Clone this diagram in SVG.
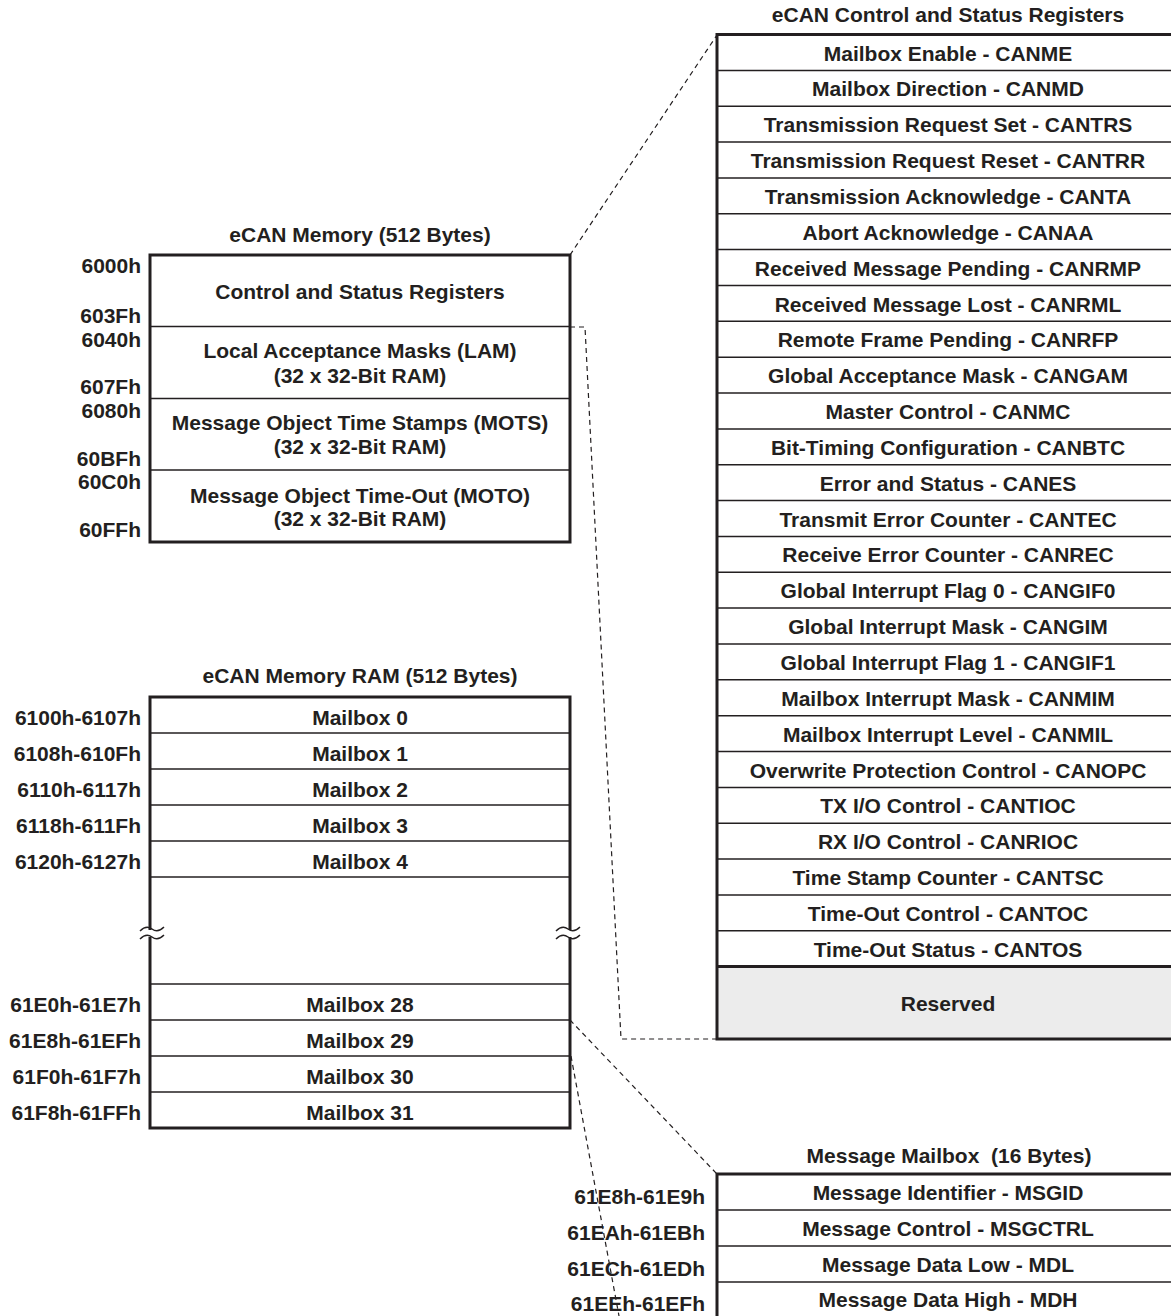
<svg xmlns="http://www.w3.org/2000/svg" width="1171" height="1316" viewBox="0 0 1171 1316">
<style>
.t{font-family:"Liberation Sans",Arial,sans-serif;font-weight:bold;font-size:21px;fill:#231f20}
.c{text-anchor:middle}
.e{text-anchor:end}
.box{fill:none;stroke:#231f20;stroke-width:3}
.dv{stroke:#231f20;stroke-width:1.5}
.dash{fill:none;stroke:#231f20;stroke-width:1.2;stroke-dasharray:5 4}
.wave{fill:none;stroke:#231f20;stroke-width:1.5}
</style>
<rect width="1171" height="1316" fill="#fff"/>
<g id="connectors">
<path class="dash" d="M570,255 L717,35"/>
<path class="dash" d="M570,327 L585,327 L621,1039 L717,1039"/>
<path class="dash" d="M570,1020 L717,1174"/>
<path class="dash" d="M571,1056 L619,1316"/>
</g>
<g id="ecan-memory">
<text class="t c" x="360" y="242">eCAN Memory (512 Bytes)</text>
<rect class="box" x="150" y="255" width="420" height="287" fill="#fff"/>
<line class="dv" x1="150" y1="326.5" x2="570" y2="326.5"/>
<line class="dv" x1="150" y1="398.5" x2="570" y2="398.5"/>
<line class="dv" x1="150" y1="470" x2="570" y2="470"/>
<text class="t c" x="360" y="299">Control and Status Registers</text>
<text class="t c" x="360" y="358">Local Acceptance Masks (LAM)</text>
<text class="t c" x="360" y="383">(32 x 32-Bit RAM)</text>
<text class="t c" x="360" y="430">Message Object Time Stamps (MOTS)</text>
<text class="t c" x="360" y="454">(32 x 32-Bit RAM)</text>
<text class="t c" x="360" y="503">Message Object Time-Out (MOTO)</text>
<text class="t c" x="360" y="526">(32 x 32-Bit RAM)</text>
<text class="t e" x="141" y="273">6000h</text>
<text class="t e" x="141" y="323">603Fh</text>
<text class="t e" x="141" y="347">6040h</text>
<text class="t e" x="141" y="394">607Fh</text>
<text class="t e" x="141" y="418">6080h</text>
<text class="t e" x="141" y="466">60BFh</text>
<text class="t e" x="141" y="489">60C0h</text>
<text class="t e" x="141" y="537">60FFh</text>
</g>
<g id="ecan-ram">
<text class="t c" x="360" y="683">eCAN Memory RAM (512 Bytes)</text>
<rect class="box" x="150" y="697" width="420" height="431"/>
<line class="dv" x1="150" y1="733" x2="570" y2="733"/>
<line class="dv" x1="150" y1="769" x2="570" y2="769"/>
<line class="dv" x1="150" y1="805" x2="570" y2="805"/>
<line class="dv" x1="150" y1="841" x2="570" y2="841"/>
<line class="dv" x1="150" y1="877" x2="570" y2="877"/>
<line class="dv" x1="150" y1="984" x2="570" y2="984"/>
<line class="dv" x1="150" y1="1020" x2="570" y2="1020"/>
<line class="dv" x1="150" y1="1056" x2="570" y2="1056"/>
<line class="dv" x1="150" y1="1092" x2="570" y2="1092"/>
<rect x="140" y="930" width="25" height="7" fill="#fff"/>
<rect x="556" y="930" width="25" height="7" fill="#fff"/>
<path class="wave" d="M140,931 C144,927 148,926 152,929 C156,932 160,931 164,927"/>
<path class="wave" d="M140,939 C144,935 148,934 152,937 C156,940 160,939 164,935"/>
<path class="wave" d="M556,931 C560,927 564,926 568,929 C572,932 576,931 580,927"/>
<path class="wave" d="M556,939 C560,935 564,934 568,937 C572,940 576,939 580,935"/>
<text class="t c" x="360" y="725">Mailbox 0</text>
<text class="t c" x="360" y="761">Mailbox 1</text>
<text class="t c" x="360" y="797">Mailbox 2</text>
<text class="t c" x="360" y="833">Mailbox 3</text>
<text class="t c" x="360" y="869">Mailbox 4</text>
<text class="t c" x="360" y="1012">Mailbox 28</text>
<text class="t c" x="360" y="1048">Mailbox 29</text>
<text class="t c" x="360" y="1084">Mailbox 30</text>
<text class="t c" x="360" y="1120">Mailbox 31</text>
<text class="t e" x="141" y="725">6100h-6107h</text>
<text class="t e" x="141" y="761">6108h-610Fh</text>
<text class="t e" x="141" y="797">6110h-6117h</text>
<text class="t e" x="141" y="833">6118h-611Fh</text>
<text class="t e" x="141" y="869">6120h-6127h</text>
<text class="t e" x="141" y="1012">61E0h-61E7h</text>
<text class="t e" x="141" y="1048">61E8h-61EFh</text>
<text class="t e" x="141" y="1084">61F0h-61F7h</text>
<text class="t e" x="141" y="1120">61F8h-61FFh</text>
</g>
<g id="control-status-registers">
<text class="t c" x="948" y="22">eCAN Control and Status Registers</text>
<rect x="717" y="966.6" width="470" height="72.4" fill="#ececec"/>
<rect class="box" x="717" y="34.5" width="470" height="1004.5"/>
<line class="dv" x1="717" y1="70.4" x2="1171" y2="70.4"/>
<line class="dv" x1="717" y1="106.2" x2="1171" y2="106.2"/>
<line class="dv" x1="717" y1="142.1" x2="1171" y2="142.1"/>
<line class="dv" x1="717" y1="177.9" x2="1171" y2="177.9"/>
<line class="dv" x1="717" y1="213.8" x2="1171" y2="213.8"/>
<line class="dv" x1="717" y1="249.6" x2="1171" y2="249.6"/>
<line class="dv" x1="717" y1="285.5" x2="1171" y2="285.5"/>
<line class="dv" x1="717" y1="321.3" x2="1171" y2="321.3"/>
<line class="dv" x1="717" y1="357.2" x2="1171" y2="357.2"/>
<line class="dv" x1="717" y1="393" x2="1171" y2="393"/>
<line class="dv" x1="717" y1="428.9" x2="1171" y2="428.9"/>
<line class="dv" x1="717" y1="464.7" x2="1171" y2="464.7"/>
<line class="dv" x1="717" y1="500.6" x2="1171" y2="500.6"/>
<line class="dv" x1="717" y1="536.4" x2="1171" y2="536.4"/>
<line class="dv" x1="717" y1="572.3" x2="1171" y2="572.3"/>
<line class="dv" x1="717" y1="608.1" x2="1171" y2="608.1"/>
<line class="dv" x1="717" y1="644" x2="1171" y2="644"/>
<line class="dv" x1="717" y1="679.8" x2="1171" y2="679.8"/>
<line class="dv" x1="717" y1="715.7" x2="1171" y2="715.7"/>
<line class="dv" x1="717" y1="751.5" x2="1171" y2="751.5"/>
<line class="dv" x1="717" y1="787.4" x2="1171" y2="787.4"/>
<line class="dv" x1="717" y1="823.2" x2="1171" y2="823.2"/>
<line class="dv" x1="717" y1="859.1" x2="1171" y2="859.1"/>
<line class="dv" x1="717" y1="894.9" x2="1171" y2="894.9"/>
<line class="dv" x1="717" y1="930.8" x2="1171" y2="930.8"/>
<line class="box" x1="717" y1="966.6" x2="1171" y2="966.6"/>
<text class="t c" x="948" y="60.5">Mailbox Enable - CANME</text>
<text class="t c" x="948" y="96.4">Mailbox Direction - CANMD</text>
<text class="t c" x="948" y="132.2">Transmission Request Set - CANTRS</text>
<text class="t c" x="948" y="168.1">Transmission Request Reset - CANTRR</text>
<text class="t c" x="948" y="203.9">Transmission Acknowledge - CANTA</text>
<text class="t c" x="948" y="239.8">Abort Acknowledge - CANAA</text>
<text class="t c" x="948" y="275.6">Received Message Pending - CANRMP</text>
<text class="t c" x="948" y="311.5">Received Message Lost - CANRML</text>
<text class="t c" x="948" y="347.3">Remote Frame Pending - CANRFP</text>
<text class="t c" x="948" y="383.2">Global Acceptance Mask - CANGAM</text>
<text class="t c" x="948" y="419">Master Control - CANMC</text>
<text class="t c" x="948" y="454.9">Bit-Timing Configuration - CANBTC</text>
<text class="t c" x="948" y="490.7">Error and Status - CANES</text>
<text class="t c" x="948" y="526.6">Transmit Error Counter - CANTEC</text>
<text class="t c" x="948" y="562.4">Receive Error Counter - CANREC</text>
<text class="t c" x="948" y="598.3">Global Interrupt Flag 0 - CANGIF0</text>
<text class="t c" x="948" y="634.1">Global Interrupt Mask - CANGIM</text>
<text class="t c" x="948" y="670">Global Interrupt Flag 1 - CANGIF1</text>
<text class="t c" x="948" y="705.8">Mailbox Interrupt Mask - CANMIM</text>
<text class="t c" x="948" y="741.7">Mailbox Interrupt Level - CANMIL</text>
<text class="t c" x="948" y="777.5">Overwrite Protection Control - CANOPC</text>
<text class="t c" x="948" y="813.4">TX I/O Control - CANTIOC</text>
<text class="t c" x="948" y="849.2">RX I/O Control - CANRIOC</text>
<text class="t c" x="948" y="885.1">Time Stamp Counter - CANTSC</text>
<text class="t c" x="948" y="920.9">Time-Out Control - CANTOC</text>
<text class="t c" x="948" y="956.8">Time-Out Status - CANTOS</text>
<text class="t c" x="948" y="1011">Reserved</text>
</g>
<g id="message-mailbox">
<text class="t c" x="949" y="1163" style="white-space:pre">Message Mailbox  (16 Bytes)</text>
<rect class="box" x="717" y="1174" width="470" height="160"/>
<line class="dv" x1="717" y1="1210" x2="1171" y2="1210"/>
<line class="dv" x1="717" y1="1246" x2="1171" y2="1246"/>
<line class="dv" x1="717" y1="1282" x2="1171" y2="1282"/>
<text class="t c" x="948" y="1200">Message Identifier - MSGID</text>
<text class="t c" x="948" y="1236">Message Control - MSGCTRL</text>
<text class="t c" x="948" y="1272">Message Data Low - MDL</text>
<text class="t c" x="948" y="1307">Message Data High - MDH</text>
<text class="t e" x="705" y="1204">61E8h-61E9h</text>
<text class="t e" x="705" y="1240">61EAh-61EBh</text>
<text class="t e" x="705" y="1276">61ECh-61EDh</text>
<text class="t e" x="705" y="1311">61EEh-61EFh</text>
</g>
</svg>
